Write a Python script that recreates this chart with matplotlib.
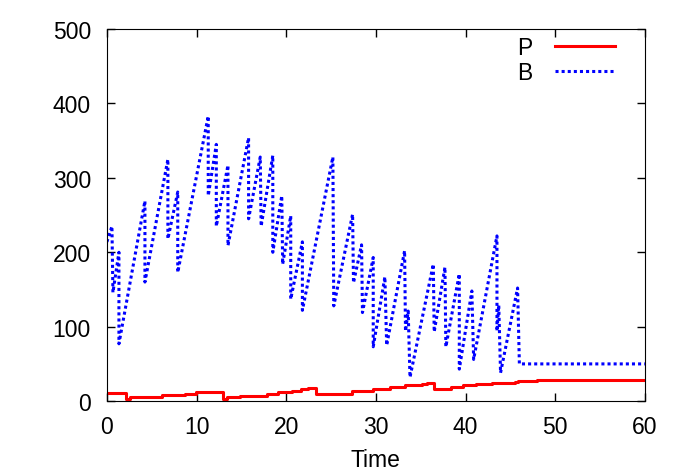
import numpy as np
import matplotlib
matplotlib.use("Agg")
import matplotlib.pyplot as plt

plt.rcParams['font.family'] = ['Liberation Sans', 'DejaVu Sans']

# P: step values (time where the level starts, level)
p_time = [0, 2.1, 2.6, 6.1, 8.7, 9.9, 12.9, 13.4, 14.8, 17.8, 19.1, 20.6, 21.7,
          22.4, 23.3, 27.3, 29.7, 31.6, 33.2, 35.1, 35.7, 36.5, 38.4, 39.7,
          41.2, 42.9, 45.5, 45.8, 48.0, 60]
p_vals = [11, 3, 6, 8, 10, 12, 3, 6, 7, 10, 12, 14, 16,
          17.5, 9, 13, 16, 19, 21, 23.5, 25, 16, 19, 21,
          23, 24, 26, 27, 28, 28]

# B: sawtooth (rise, then sudden drop)
b_time = [0, 0.56, 0.67, 1.34, 1.34, 4.24, 4.24, 6.8, 6.8, 7.9, 7.9, 11.3, 11.3,
          12.2, 12.2, 13.5, 13.5, 15.8, 15.8, 17.1, 17.2, 18.5, 18.5, 19.5, 19.6,
          20.5, 20.5, 21.8, 21.8, 25.2, 25.3, 27.4, 27.5, 28.4, 28.5, 29.7, 29.7,
          31.0, 31.2, 33.2, 33.3, 33.6, 33.8, 36.4, 36.5, 37.7, 37.8, 39.3, 39.3,
          40.7, 40.9, 43.5, 43.5, 43.7, 43.9, 45.8, 46.0, 60]
b_vals = [214, 235, 146, 200, 77, 269, 160, 325, 218, 281, 173, 383, 276,
          345, 235, 317, 209, 354, 245, 328, 235, 330, 200, 276, 184,
          249, 137, 214, 122, 328, 128, 251, 159, 210, 119, 193, 73,
          167, 75, 202, 94, 121, 32, 184, 93, 180, 73, 171, 43,
          148, 56, 222, 94, 129, 38, 152, 50, 50]

fig = plt.figure(figsize=(6.81, 4.77), dpi=100)
ax = fig.add_axes([0.157, 0.157, 0.790, 0.780])

ax.plot(p_time, p_vals, drawstyle="steps-post", color="#ff0000", lw=2.2, label="P")
ax.plot(b_time, b_vals, color="#0000ff", lw=2.2, linestyle=(0, (1, 1)), label="B")

ax.set_xlim(0, 60)
ax.set_ylim(0, 500)
ax.set_xticks(range(0, 61, 10))
ax.set_yticks(range(0, 501, 100))
ax.tick_params(direction="in", top=True, right=True, length=6, width=1,
               labelsize=16.5)
ax.tick_params(axis="x", pad=10)
ax.tick_params(axis="y", pad=11.5)
ax.set_xlabel("Time", fontsize=16.5, labelpad=7.5)

ax.legend(loc="upper right", frameon=False, markerfirst=False, fontsize=16.5,
          handlelength=2.6, handletextpad=1.0, labelspacing=0.1,
          borderpad=0.1, borderaxespad=0.2, bbox_to_anchor=(0.957, 1.0))

fig.savefig("out.png", dpi=100)
